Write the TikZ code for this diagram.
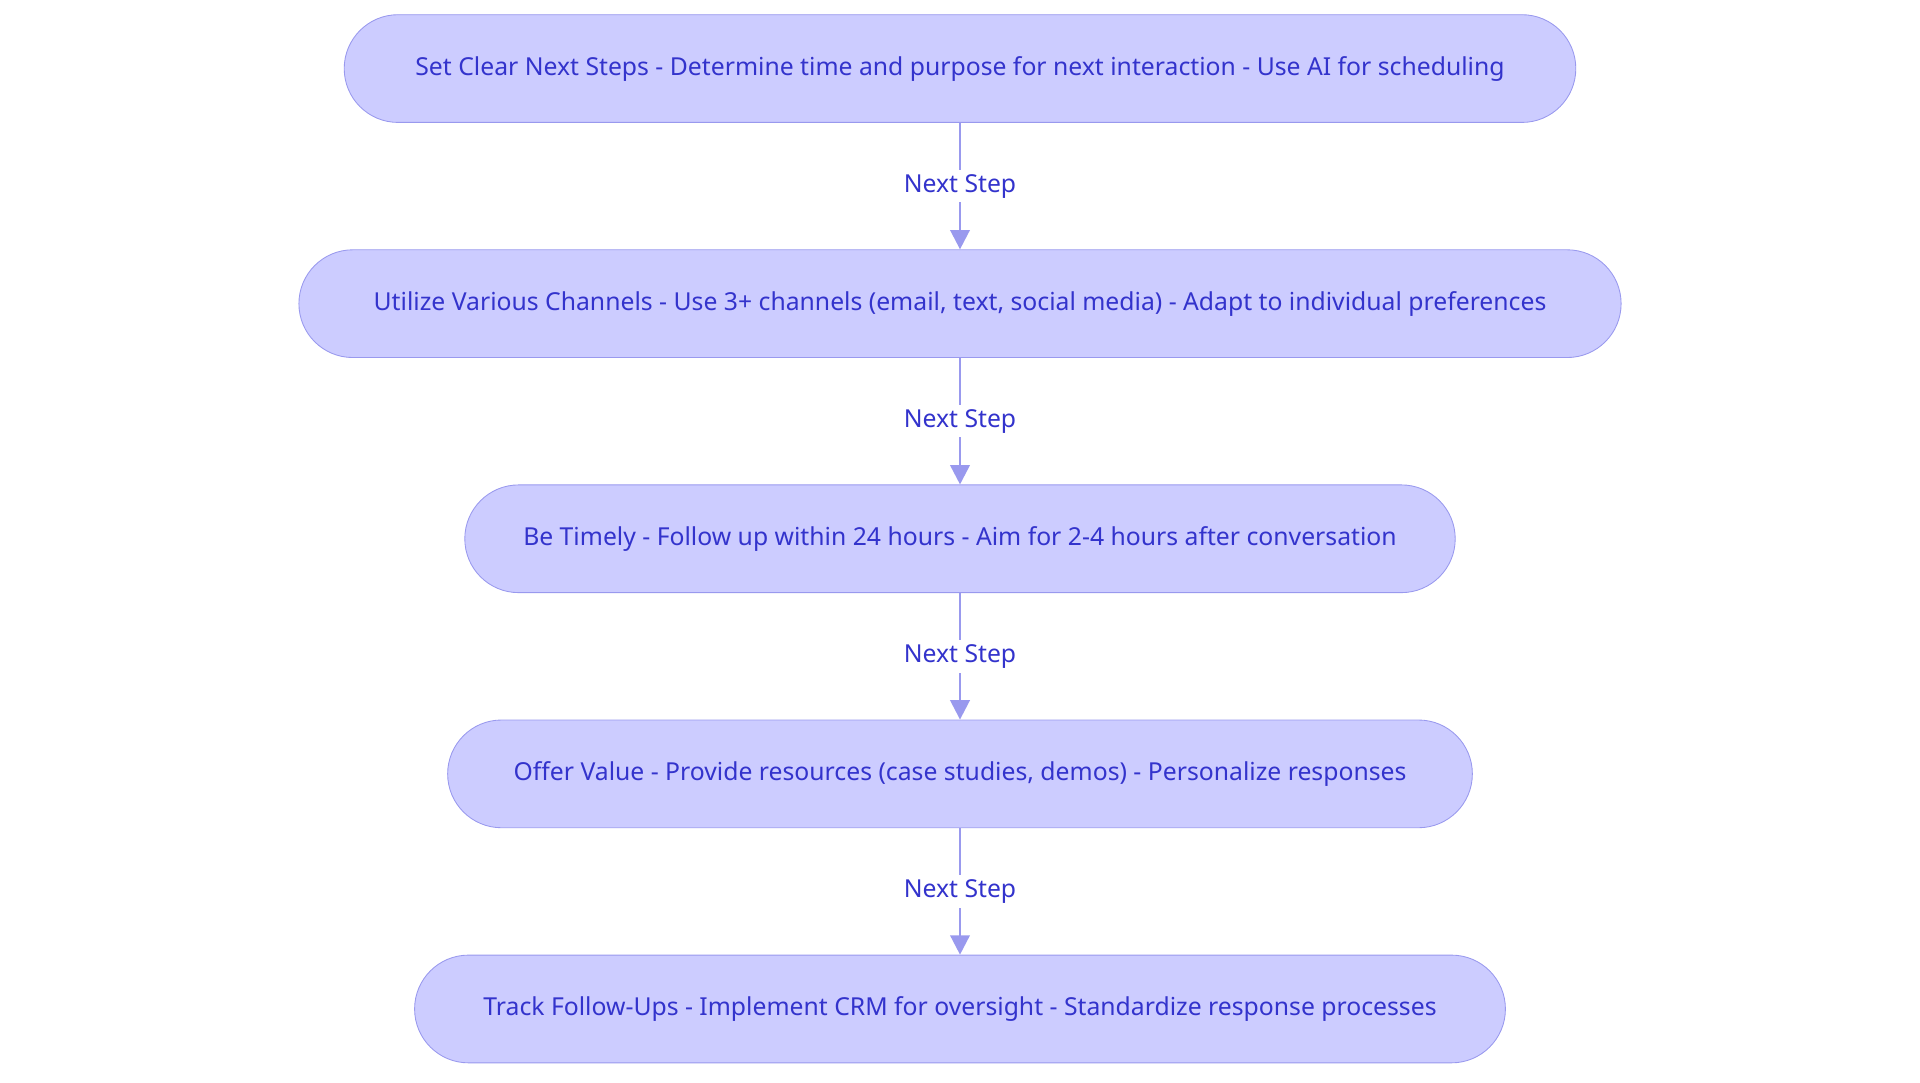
\documentclass[tikz,border=0pt]{standalone}
\usepackage{fontspec}
\setmainfont{Noto Sans}
\usepackage{tikz}
\usetikzlibrary{arrows.meta, positioning}
\definecolor{boxfill}{HTML}{CCCCFF}
\definecolor{boxline}{HTML}{9999EE}
\definecolor{boxtext}{HTML}{3333CC}

\begin{document}
\begin{tikzpicture}[x=0.02cm, y=-0.02cm,
      stepbox/.style={draw=boxline, fill=boxfill, rounded corners=0.88cm,
        minimum height=1.76cm, text=boxtext, font=\fontsize{11.5}{13}\selectfont},
      link/.style={draw=boxline, line width=1.2pt, -{Triangle[length=9pt, width=9pt]}},
      lbl/.style={fill=white, text=boxtext, font=\fontsize{11.5}{13}\selectfont, inner sep=2pt}]
      \useasboundingbox (0,0) rectangle (1568,884);
      \node[stepbox, minimum width=20.12cm] (s1) at (784,56)
        {Set Clear Next Steps - Determine time and purpose for next interaction - Use AI for scheduling};
      \node[stepbox, minimum width=21.6cm] (s2) at (784,248)
        {Utilize Various Channels - Use 3+ channels (email, text, social media) - Adapt to individual preferences};
      \node[stepbox, minimum width=16.18cm] (s3) at (784,440)
        {Be Timely - Follow up within 24 hours - Aim for 2-4 hours after conversation};
      \node[stepbox, minimum width=16.74cm] (s4) at (784,632)
        {Offer Value - Provide resources (case studies, demos) - Personalize responses};
      \node[stepbox, minimum width=17.82cm] (s5) at (784,824)
        {Track Follow-Ups - Implement CRM for oversight - Standardize response processes};
      % connectors
      \foreach \a/\b in {s1/s2, s2/s3, s3/s4, s4/s5}
        \draw[link] (\a) -- node[lbl]{Next Step} (\b);
    \end{tikzpicture}
\end{document}
